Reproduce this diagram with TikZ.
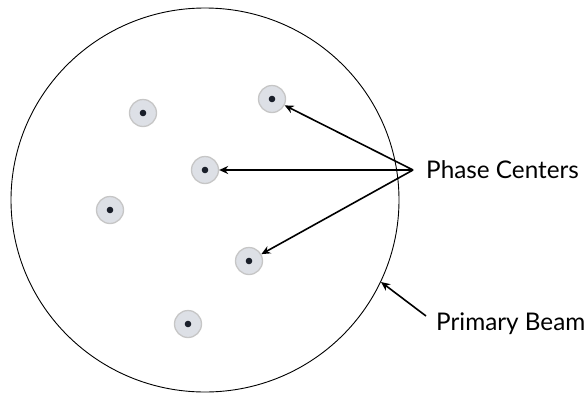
\documentclass[tikz,border=0pt]{standalone}
\usepackage{fontspec}
\setmainfont{Lato}
\usetikzlibrary{arrows.meta}
\definecolor{pcfill}{HTML}{DDE0E6}
\definecolor{pcdraw}{HTML}{C6C6C6}
\definecolor{dotc}{HTML}{1A1F2A}
\tikzset{
  pc/.style={circle, fill=pcfill, draw=pcdraw, line width=1.3pt, minimum size=27pt, inner sep=0pt},
  pcarrow/.style={-{Stealth[length=9pt,width=8pt]}, line width=1.6pt},
  lbl/.style={font=\fontsize{24.3}{28}\selectfont, anchor=west, inner sep=0pt}
}
\begin{document}
\begin{tikzpicture}[x=1pt,y=-1pt]
\useasboundingbox (0,0) rectangle (587,394);
\draw[line width=0.9pt] (205,200) ellipse [x radius=194, y radius=192];
\foreach \n/\x/\y in {a/143/113, b/272/99, c/205/170, d/110/210, e/249/261, f/188/324}{
  \node[pc] (\n) at (\x,\y) {};
  \fill[dotc] (\x,\y) circle (3.3pt);
}
\coordinate (apex) at (413,170);
\node[lbl] (phase) at (426,170) {Phase Centers};
\node[lbl] (beam) at (436,324) {Primary Beam};
\coordinate (bstart) at (426,316);
\coordinate (bend) at (381,282);
\draw[pcarrow] (apex) -- (b);
\draw[pcarrow] (apex) -- (c);
\draw[pcarrow] (apex) -- (e);
\draw[pcarrow] (bstart) -- (bend);
\end{tikzpicture}
\end{document}
